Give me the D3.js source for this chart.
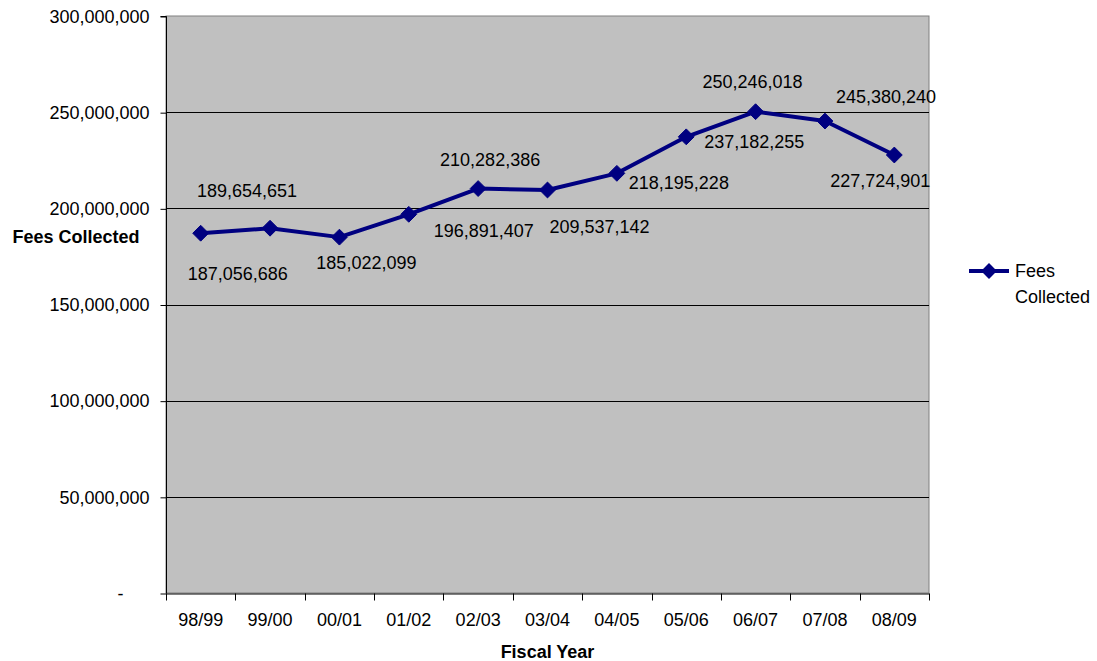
<!DOCTYPE html>
<html>
<head>
<meta charset="utf-8">
<script src="https://cdn.jsdelivr.net/npm/d3@7"></script>
<style>
  html, body { margin: 0; padding: 0; background: #fff; }
  svg { display: block; font-family: "Liberation Sans", Arial, sans-serif; }
</style>
</head>
<body>
<svg id="chart" width="1097" height="661"></svg>
<script>
const categories = ["98/99","99/00","00/01","01/02","02/03","03/04","04/05","05/06","06/07","07/08","08/09"];
const fees = [187056686, 189654651, 185022099, 196891407, 210282386, 209537142, 218195228, 237182255, 250246018, 245380240, 227724901];
const yTicks = [0, 50000000, 100000000, 150000000, 200000000, 250000000, 300000000];
const seriesName = "Fees Collected";
const xTitle = "Fiscal Year";
const yTitle = "Fees Collected";
// label offsets (layout only), relative to each point
const labelOffsets = [[37,41],[-23,-37],[27,26],[75,17],[12,-29],[52,37],[62,10],[68,5],[-3,-30],[61,-24],[-14,26]];

const svg = d3.select("#chart");
const plot = {left: 166, top: 16, right: 929, bottom: 593};
const x = d3.scaleBand().domain(categories).range([plot.left, plot.right]);
const y = d3.scaleLinear().domain([0, 300000000]).range([plot.bottom, plot.top]);
const fmt = d3.format(",");
const fontSize = 18;

// plot background
svg.append("rect")
  .attr("x", plot.left).attr("y", plot.top)
  .attr("width", plot.right - plot.left).attr("height", plot.bottom - plot.top)
  .attr("fill", "#C0C0C0").attr("stroke", "#808080").attr("stroke-width", 1);

// gridlines
svg.append("g").selectAll("line").data(yTicks.filter(d => d > 0 && d < 300000000)).join("line")
  .attr("x1", plot.left).attr("x2", plot.right)
  .attr("y1", d => Math.round(y(d)) + 0.5).attr("y2", d => Math.round(y(d)) + 0.5)
  .attr("stroke", "#000").attr("stroke-width", 1);

// y axis
const yAxis = d3.axisLeft(y).tickValues(yTicks).tickSize(6).tickPadding(11)
  .tickFormat(d => d === 0 ? "-" : fmt(d));
const gy = svg.append("g").attr("transform", `translate(${plot.left + 0.5},0.5)`).call(yAxis);
gy.select(".domain").attr("stroke", "#000").attr("d", `M-6,${Math.round(plot.top)}H0V${Math.round(plot.bottom)}`);
gy.selectAll(".tick line").attr("stroke", "#000");
gy.selectAll(".tick text").attr("font-size", fontSize).attr("fill", "#000")
  .attr("font-family", "'Liberation Sans', Arial, sans-serif")
  .attr("dx", d => d === 0 ? -26 : 0);

// x axis
const xAxis = d3.axisBottom(x).tickSize(0).tickPadding(20);
const gx = svg.append("g").attr("transform", `translate(0,${plot.bottom + 0.5})`).call(xAxis);
gx.select(".domain").attr("stroke", "#000");
gx.selectAll(".tick text").attr("font-size", fontSize).attr("fill", "#000")
  .attr("font-family", "'Liberation Sans', Arial, sans-serif");
// boundary ticks
const bounds = categories.map(c => x(c)).concat([x(categories[categories.length - 1]) + x.bandwidth()]);
gx.append("g").selectAll("line").data(bounds).join("line")
  .attr("x1", d => Math.round(d) + 0.5).attr("x2", d => Math.round(d) + 0.5)
  .attr("y1", 0).attr("y2", 7).attr("stroke", "#000");

// line
const cx = d => x(d) + x.bandwidth() / 2;
const line = d3.line().x((d, i) => cx(categories[i])).y(d => y(d));
svg.append("path").datum(fees).attr("d", line)
  .attr("fill", "none").attr("stroke", "#000080").attr("stroke-width", 4).attr("stroke-linejoin", "round");

// markers
const diamond = d3.symbol().type(d3.symbolDiamond2).size(160);
svg.append("g").selectAll("path").data(fees).join("path")
  .attr("transform", (d, i) => `translate(${cx(categories[i])},${y(d)})`)
  .attr("d", diamond).attr("fill", "#000080").attr("stroke", "#000080");

// data labels
svg.append("g").selectAll("text").data(fees).join("text")
  .attr("x", (d, i) => cx(categories[i]) + labelOffsets[i][0])
  .attr("y", (d, i) => y(d) + labelOffsets[i][1])
  .attr("text-anchor", "middle").attr("dominant-baseline", "central")
  .attr("font-size", fontSize).attr("fill", "#000")
  .text(d => fmt(d));

// axis titles
svg.append("text").attr("x", (plot.left + plot.right) / 2).attr("y", 652)
  .attr("text-anchor", "middle").attr("dominant-baseline", "central")
  .attr("font-size", 18).attr("font-weight", "bold").text(xTitle);
svg.append("text").attr("x", 76).attr("y", 237)
  .attr("text-anchor", "middle").attr("dominant-baseline", "central")
  .attr("font-size", 18).attr("font-weight", "bold").text(yTitle);

// legend
const lg = svg.append("g").attr("transform", "translate(969,271)");
lg.append("line").attr("x1", 0).attr("x2", 40).attr("y1", 0).attr("y2", 0)
  .attr("stroke", "#000080").attr("stroke-width", 4);
lg.append("path").attr("transform", "translate(20,0)").attr("d", diamond).attr("fill", "#000080");
lg.append("text").attr("x", 46).attr("y", 0).attr("dominant-baseline", "central")
  .attr("font-size", 18).text("Fees");
lg.append("text").attr("x", 46).attr("y", 26).attr("dominant-baseline", "central")
  .attr("font-size", 18).text("Collected");
</script>
</body>
</html>
